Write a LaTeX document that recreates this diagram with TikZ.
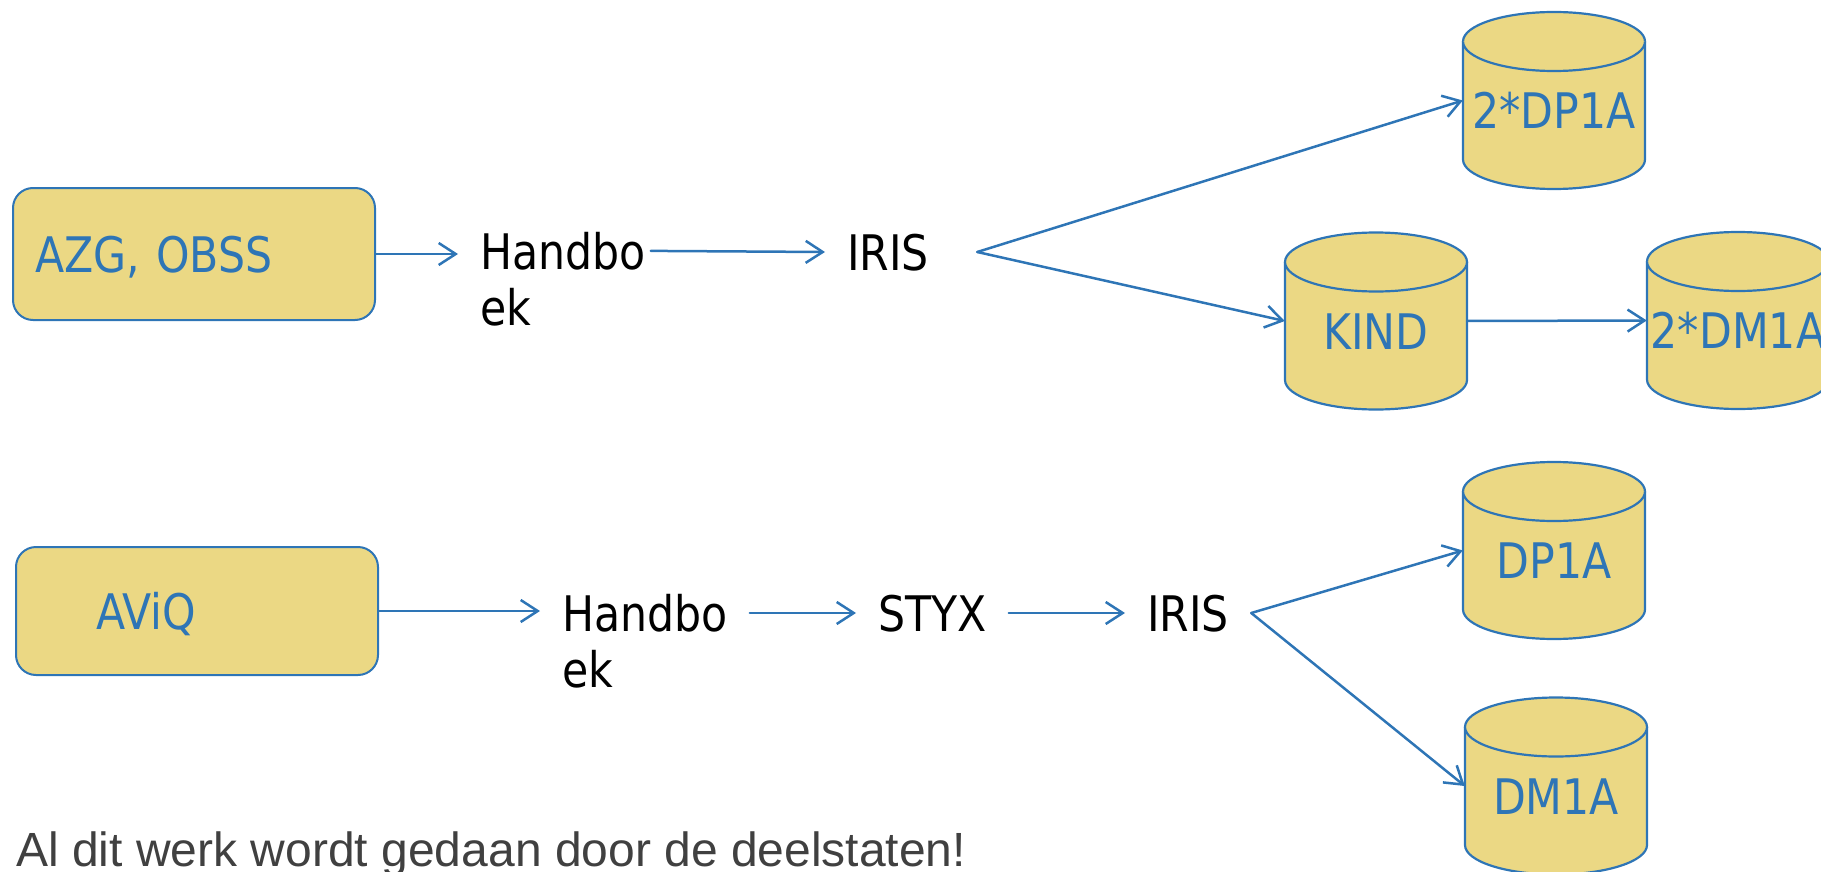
\documentclass[tikz,border=0pt]{standalone}
\usepackage{fontspec}
\usepackage{xcolor}
\usetikzlibrary{arrows.meta}
\usetikzlibrary{calc}
\newfontfamily\labelfont{DejaVu Sans}[FakeStretch=0.87]
\newfontfamily\notefont{Liberation Sans}
\newcommand{\boxfont}{\labelfont\fontsize{49pt}{56pt}\selectfont}
\definecolor{myblue}{RGB}{46,117,182}
\definecolor{myyellow}{RGB}{235,216,132}
\definecolor{mygrey}{RGB}{64,64,64}

% database drum: name, x, y, text
\newcommand{\dbcyl}[4]{%
  \filldraw[dbshape] (#2-91,#3+59) -- (#2-91,#3-59) arc (180:360:91 and 29.5)
    -- (#2+91,#3+59) arc (0:180:91 and 29.5) -- cycle;
  \draw[dbshape] (#2-91,#3+59) arc (180:360:91 and 29.5);
  \node[dbnode] (#1) at (#2,#3) {#4};
}

\begin{document}
\begin{tikzpicture}[x=1pt,y=1pt,
    srcbox/.style={draw=myblue,fill=myyellow,line width=2pt,rounded corners=20pt,
      minimum width=362pt,text width=318pt,inner xsep=22pt,align=left,
      text height=36pt,text depth=0pt,text=myblue,font=\boxfont},
    lbl/.style={inner xsep=22pt,inner ysep=0pt,text height=36pt,text depth=0pt,font=\boxfont},
    dbshape/.style={draw=myblue,fill=myyellow,line width=2.2pt},
    dbnode/.style={minimum width=182pt,minimum height=177pt,inner sep=0pt,
      text height=56pt,text depth=0pt,text=myblue,font=\boxfont},
    arr/.style={myblue,line width=2.5pt,line cap=round,-{Straight Barb[length=17pt,width=22pt]}},
  ]
  \useasboundingbox (0,0) rectangle (1821,-872);

  % SOURCES
  \node[srcbox,minimum height=132pt] (azg) at (194,-254) {AZG, OBSS};
  \node[srcbox,minimum height=128pt] (aviq) at (197,-611) {\hspace*{58pt}AViQ};

  % TOP CHAIN
  \node[lbl,anchor=base west] (hbA) at (458,-269) {Handbo};
  \node[lbl,anchor=base west] (hbAek) at ([yshift=-56pt]hbA.base west) {ek};
  \node[lbl,anchor=base west] (irisA) at (825,-270) {IRIS};
  \coordinate (forkA) at ([xshift=26pt]irisA.east);

  % BOTTOM CHAIN
  \node[lbl,anchor=base west] (hbB) at (540,-631) {Handbo};
  \node[lbl,anchor=base west] (hbBek) at ([yshift=-56pt]hbB.base west) {ek};
  \node[lbl,anchor=base west] (styx) at (856,-631) {STYX};
  \node[lbl,anchor=base west] (irisB) at (1125,-631) {IRIS};

  % DATABASES
  \dbcyl{dpA}{1554}{-100.5}{2*DP1A}
  \dbcyl{kind}{1376}{-321}{KIND}
  \dbcyl{dmA}{1738}{-320.5}{2*DM1A}
  \dbcyl{dpB}{1554}{-550.5}{DP1A}
  \dbcyl{dmB}{1556}{-786}{DM1A}

  % ARROWS
  \draw[arr] (azg.east) -- (azg.east -| hbA.west);
  \draw[arr,shorten <=-17pt] (hbA.east) -- (irisA.west);
  \draw[arr] (forkA) -- (dpA.west);
  \draw[arr] (forkA) -- (kind.west);
  \draw[arr] (kind.east) -- (dmA.west);
  \draw[arr] (aviq.east) -- (aviq.east -| hbB.west);
  \draw[arr] (hbB.east) -- (styx.west);
  \draw[arr] (styx.east) -- (irisB.west);
  \draw[arr] (irisB.east) -- (dpB.west);
  \draw[arr] (irisB.east) -- (dmB.west);

  % NOTE
  \node[font=\notefont\fontsize{48pt}{56pt}\selectfont,text=mygrey,anchor=base west,inner sep=0pt]
    (note) at (16,-866) {Al dit werk wordt gedaan door de deelstaten!};
\end{tikzpicture}
\end{document}
